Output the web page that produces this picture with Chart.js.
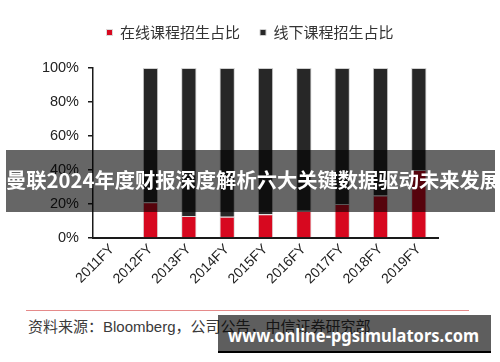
<!DOCTYPE html>
<html>
<head>
<meta charset="utf-8">
<script src="https://cdn.jsdelivr.net/npm/chart.js@4.4.1/dist/chart.umd.min.js"></script>
<style>
  html,body{margin:0;padding:0;background:#fff;}
  #wrap{position:relative;width:500px;height:362px;overflow:hidden;background:#fff;}
  #cbox{position:absolute;left:0;top:0;width:500px;height:300px;}
  #rule{position:absolute;left:26px;top:310px;width:443px;height:0;border-top:1.5px solid #e58a8a;}
  #src{position:absolute;left:28px;top:317px;font:15px "Liberation Sans","Noto Sans CJK SC",sans-serif;color:#3a3a3a;white-space:nowrap;line-height:20px;}
  #banner{position:absolute;left:6px;top:150px;width:489px;height:62px;background:rgba(0,0,0,0.6);color:#fff;
    font:bold 20.3px "Noto Sans CJK SC",sans-serif;text-align:center;line-height:58px;white-space:nowrap;}
  #wm{position:absolute;left:218px;top:315px;width:273px;height:36px;background:rgba(0,0,0,0.63);border-bottom:2px solid #000;}
  #wmt{position:absolute;left:10px;top:0;color:#fff;font:bold 18.5px "Noto Sans","DejaVu Sans",sans-serif;line-height:40px;white-space:nowrap;transform-origin:0 50%;}
</style>
</head>
<body>
<div id="wrap">
  <div id="cbox"><canvas id="c" width="500" height="300"></canvas></div>
  <div id="rule"></div>
  <div id="src">资料来源：Bloomberg，公司公告，中信证券研究部</div>
  <div id="banner">曼联2024年度财报深度解析六大关键数据驱动未来发展</div>
  <div id="wm"><span id="wmt">www.online-pgsimulators.com</span></div>
</div>
<script>
const categories = ["2011FY","2012FY","2013FY","2014FY","2015FY","2016FY","2017FY","2018FY","2019FY"];
const onlineShare  = [null, 21, 13, 12.5, 14, 16, 20, 25, 40];
const offlineShare = [null, 79, 87, 87.5, 86, 84, 80, 75, 60];
const seriesNames = ["在线课程招生占比", "线下课程招生占比"];
const yTicks = [0, 20, 40, 60, 80, 100];

(function(){
  const t = document.getElementById('wmt');
  const w = t.getBoundingClientRect().width;
  if (w > 0) t.style.transform = 'scaleX(' + (251 / w) + ')';
})();

const legendSpace = {
  id: 'legendSpace',
  beforeInit(chart) {
    const lg = chart.legend;
    if (!lg) return;
    const orig = lg.fit;
    lg.fit = function() { orig.call(this); this.height += 18; };
  }
};

new Chart(document.getElementById('c'), {
  type: 'bar',
  data: {
    labels: categories,
    datasets: [
      { label: seriesNames[0], data: onlineShare, backgroundColor: '#d7081f', borderColor: '#dadada', borderWidth: 1, stack: 's' },
      { label: seriesNames[1], data: offlineShare, backgroundColor: '#272727', borderColor: '#d0d0d0', borderWidth: 1, stack: 's' }
    ]
  },
  options: {
    responsive: false,
    animation: false,
    devicePixelRatio: 1,
    layout: { padding: { left: 0, right: 0, top: 5, bottom: 0 } },
    datasets: { bar: { categoryPercentage: 1, barPercentage: 0.4 } },
    plugins: {
      legend: {
        position: 'top',
        labels: {
          boxWidth: 6, boxHeight: 6, padding: 20, color: '#333',
          font: { family: '"Noto Sans CJK SC", sans-serif', size: 15 }
        }
      },
      tooltip: { enabled: false }
    },
    scales: {
      x: {
        stacked: true,
        grid: { display: false, drawTicks: false },
        border: { display: true, color: '#1a1a1a', width: 2 },
        ticks: {
          minRotation: 45, maxRotation: 45, padding: 3, color: '#222',
          font: { family: '"Liberation Sans", Arial, sans-serif', size: 14 }
        },
        afterFit(s) { s.height = 62; }
      },
      y: {
        stacked: true, min: 0, max: 100,
        afterBuildTicks(s) { s.ticks = yTicks.map(v => ({ value: v })); },
        grid: { display: true, drawOnChartArea: false, drawTicks: true, tickLength: 5, color: '#1a1a1a', lineWidth: 1.5 },
        border: { display: true, color: '#1a1a1a', width: 1.5 },
        ticks: {
          padding: 9, color: '#222',
          font: { family: '"Liberation Sans", Arial, sans-serif', size: 14.5 },
          callback: v => v + '%'
        },
        afterFit(s) { s.width = 93; }
      },
      yR: {
        position: 'right', display: true, min: 0, max: 100,
        grid: { display: false, drawTicks: false },
        border: { display: false },
        ticks: { display: false },
        afterFit(s) { s.width = 62; }
      }
    }
  },
  plugins: [legendSpace]
});
</script>
</body>
</html>
